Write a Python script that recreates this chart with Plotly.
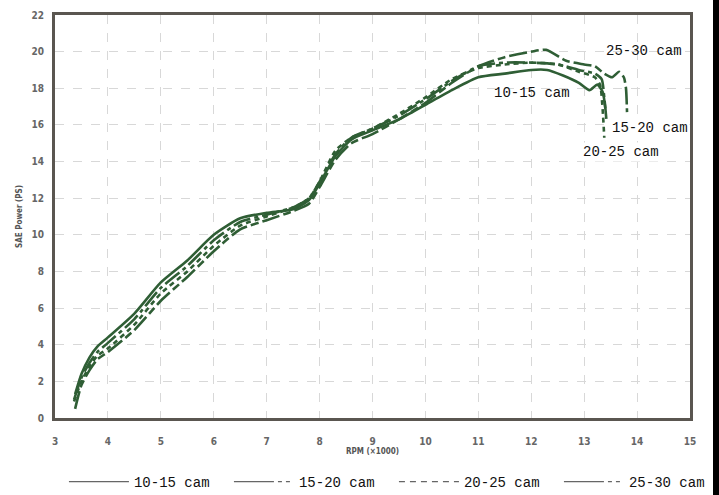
import plotly.graph_objects as go

rpm_10_15 = [3.38, 3.5, 3.65, 3.8, 4.0, 4.5, 5.0, 5.5, 6.0, 6.5, 7.0, 7.5, 7.8, 8.0, 8.3, 8.6, 9.0, 9.5, 10.0, 10.5, 11.0, 11.5, 12.0, 12.3, 12.6, 12.9, 13.1, 13.25, 13.35, 13.4]
p_10_15 = [1.3, 2.4, 3.3, 3.9, 4.4, 5.7, 7.4, 8.6, 10.0, 10.9, 11.2, 11.4, 11.9, 12.8, 14.3, 15.2, 15.7, 16.3, 17.1, 17.9, 18.6, 18.8, 19.0, 19.0, 18.7, 18.3, 17.9, 18.2, 17.8, 16.9]

rpm_15_20 = [3.36, 3.5, 3.65, 3.8, 4.0, 4.5, 5.0, 5.5, 6.0, 6.5, 7.0, 7.5, 7.8, 8.0, 8.3, 8.6, 9.0, 9.5, 10.0, 10.5, 11.0, 11.5, 12.0, 12.5, 12.9, 13.2, 13.33, 13.38, 13.42]
p_15_20 = [1.0, 2.2, 3.0, 3.6, 4.1, 5.4, 7.1, 8.3, 9.7, 10.7, 11.1, 11.5, 12.0, 12.9, 14.4, 15.3, 15.8, 16.5, 17.4, 18.4, 19.2, 19.4, 19.4, 19.3, 19.0, 18.8, 18.5, 17.5, 16.3]

rpm_20_25 = [3.36, 3.5, 3.65, 3.8, 4.0, 4.5, 5.0, 5.5, 6.0, 6.5, 7.0, 7.5, 7.8, 8.0, 8.3, 8.6, 9.0, 9.5, 10.0, 10.5, 11.0, 11.5, 12.0, 12.5, 12.9, 13.2, 13.3, 13.35, 13.38]
p_20_25 = [0.9, 2.0, 2.8, 3.4, 3.8, 5.1, 6.8, 8.0, 9.4, 10.5, 11.0, 11.5, 12.0, 12.9, 14.6, 15.3, 15.8, 16.6, 17.5, 18.5, 19.1, 19.3, 19.4, 19.3, 18.9, 18.6, 18.2, 16.8, 15.3]

rpm_25_30 = [3.38, 3.5, 3.65, 3.8, 4.0, 4.5, 5.0, 5.5, 6.0, 6.5, 7.0, 7.5, 7.8, 8.0, 8.3, 8.6, 9.0, 9.5, 10.0, 10.5, 11.0, 11.5, 12.0, 12.28, 12.66, 13.0, 13.2, 13.38, 13.53, 13.66, 13.75, 13.79, 13.81]
p_25_30 = [0.5, 1.8, 2.6, 3.2, 3.6, 4.8, 6.4, 7.7, 9.1, 10.3, 10.8, 11.3, 11.7, 12.6, 14.1, 15.0, 15.5, 16.3, 17.2, 18.3, 19.2, 19.7, 20.0, 20.1, 19.5, 19.3, 19.2, 18.8, 18.6, 18.9, 18.6, 18.0, 16.7]

series_names = ["10-15 cam", "15-20 cam", "20-25 cam", "25-30 cam"]
x_ticks = list(range(3, 16))
y_ticks = list(range(0, 23, 2))

LINE_COLOR = "#2f5e35"
dashes = ["solid", "18px,4px,4px,4px", "5px,4px", "18px,4px,8px,4px"]
legend_dashes = ["solid", "40px,4px,4px,4px,4px,4px", "6px,5px", "40px,4px,4px,4px,4px,4px"]

fig = go.Figure()
for name, xs, ys, dsh in zip(series_names,
                              [rpm_10_15, rpm_15_20, rpm_20_25, rpm_25_30],
                              [p_10_15, p_15_20, p_20_25, p_25_30], dashes):
    fig.add_trace(go.Scatter(x=xs, y=ys, mode="lines", name=name, showlegend=False,
                             line=dict(color=LINE_COLOR, width=2.6, dash=dsh, shape="spline", smoothing=0.6)))

for name, dsh in zip(series_names, legend_dashes):
    fig.add_trace(go.Scatter(x=[None], y=[None], mode="lines", name=name, showlegend=True,
                             line=dict(color="#666666", width=1.2, dash=dsh)))

tick_font = dict(family="DejaVu Sans Condensed, DejaVu Sans, sans-serif", size=10, color="#666666", weight="bold")
title_font = dict(family="DejaVu Sans Condensed, DejaVu Sans, sans-serif", size=8, color="#555555", weight="bold")
label_font = dict(family="Liberation Mono, DejaVu Sans Mono, monospace", size=14, color="#111111")

fig.update_xaxes(range=[3, 15], tickvals=x_ticks, showline=True, mirror=True, linewidth=2.8,
                 linecolor="#5a5650", showgrid=True, gridcolor="#d8d8d8", griddash="dash", gridwidth=1,
                 zeroline=False, ticks="", tickfont=tick_font, ticklabelstandoff=12,
                 title=dict(text="RPM (×1000)", font=title_font, standoff=0))
fig.update_yaxes(range=[0, 22], tickvals=y_ticks, showline=True, mirror=True, linewidth=2.8,
                 linecolor="#5a5650", showgrid=True, gridcolor="#d8d8d8", griddash="dash", gridwidth=1,
                 zeroline=False, ticks="", tickfont=tick_font, ticklabelstandoff=6,
                 title=dict(text="SAE Power (PS)", font=title_font, standoff=8))

annots = [
    dict(x=12.02, y=17.74, text="10-15 cam", bgcolor=None),
    dict(x=14.13, y=20.03, text="25-30 cam", bgcolor=None),
    dict(x=14.25, y=15.83, text="15-20 cam", bgcolor="white"),
    dict(x=13.70, y=14.52, text="20-25 cam", bgcolor="white"),
]
for a in annots:
    kw = dict(x=a["x"], y=a["y"], xref="x", yref="y", text=a["text"], showarrow=False, font=label_font)
    if a["bgcolor"]:
        kw["bgcolor"] = a["bgcolor"]
    fig.add_annotation(**kw)

fig.add_shape(type="rect", xref="paper", yref="paper", x0=(713 - 55) / 635, x1=(725 - 55) / 635,
              y0=(418 - 500) / 403, y1=(418 + 5) / 403, fillcolor="black", line=dict(width=0), layer="above")

fig.update_layout(
    width=719, height=495,
    margin=dict(l=55, r=29, t=15, b=77, autoexpand=False),
    paper_bgcolor="white", plot_bgcolor="white",
    legend=dict(orientation="h", x=-0.0001, xanchor="left",
                y=(418 - 482) / 403, yanchor="middle",
                font=label_font, itemwidth=60, entrywidth=90, entrywidthmode="pixels",
                borderwidth=9, bordercolor="rgba(0,0,0,0)",
                bgcolor="rgba(0,0,0,0)"),
)

fig.write_html("out.html", post_script="document.body.style.margin='0px';",
               config={"displayModeBar": False})
